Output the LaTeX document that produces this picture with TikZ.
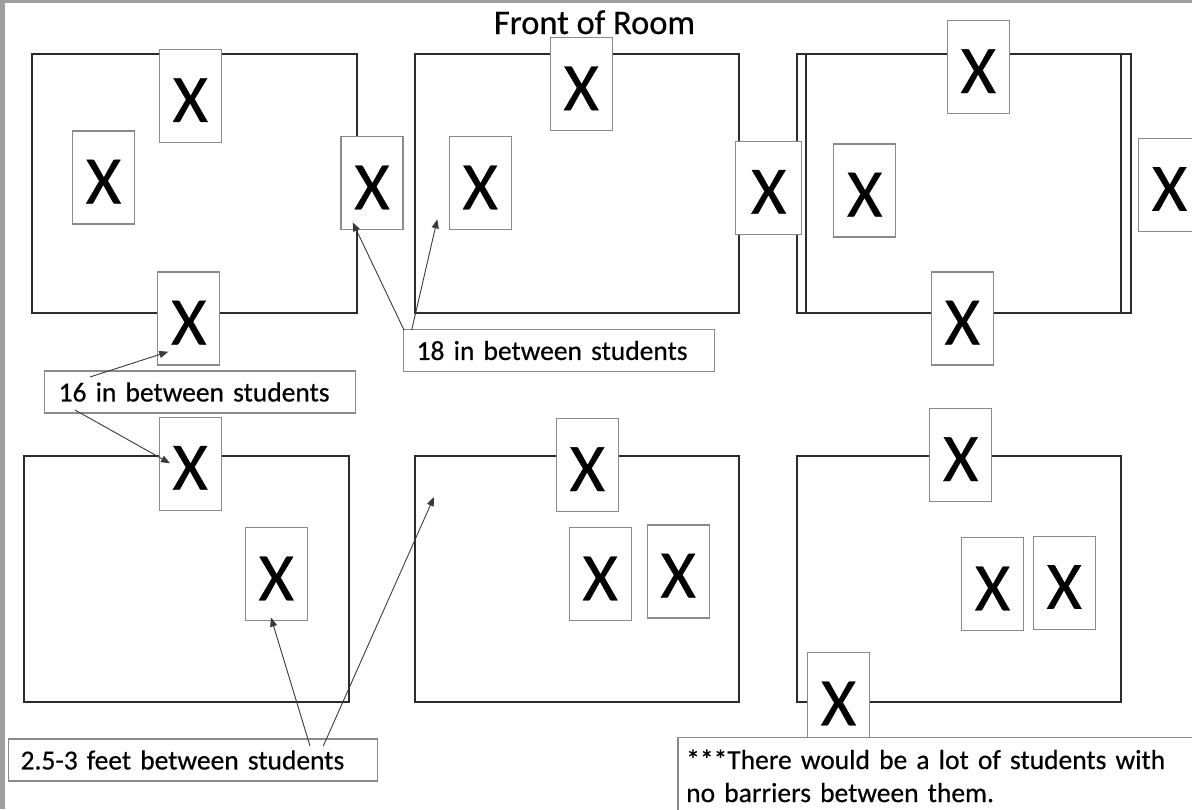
\documentclass[tikz,border=0pt]{standalone}
\usepackage{fontspec}
\setmainfont{Carlito}[FakeBold=0.5]
\usetikzlibrary{arrows.meta}
\definecolor{framegray}{HTML}{9E9E9E}
\definecolor{tableline}{HTML}{2B2B2B}
\definecolor{boxline}{HTML}{8A8A8A}
\definecolor{arrowline}{HTML}{3A3A3A}
\begin{document}
\begin{tikzpicture}[x=1pt,y=-1pt,
  seat/.style={draw=boxline, line width=1.2pt, fill=white, minimum width=62pt, minimum height=93pt, inner sep=0pt, text height=52pt, text depth=0pt, font=\fontsize{68}{68}\selectfont},
  desk/.style={draw=tableline, line width=2pt},
  note/.style={draw=boxline, line width=1.2pt, fill=white, font=\fontsize{27.5}{33}\selectfont, align=left, inner ysep=0pt, minimum height=42pt},
  pointer/.style={draw=arrowline, line width=0.9pt, -{Triangle[length=9pt,width=7pt]}}]
\useasboundingbox (0,0) rectangle (1192,809);
\clip (0,0) rectangle (1192,809);
\fill[white] (0,0) rectangle (1192,809);
\fill[framegray] (0,0) rectangle (4.5,809);
\fill[framegray] (0,0) rectangle (1192,3);

% title
\node[font=\fontsize{34.5}{40}\selectfont, anchor=base, inner sep=0pt] (title) at (594.5,34) {Front of Room};

% tables
\draw[desk] (32.3,54.3) rectangle (357.3,313.3);
\draw[desk] (414.7,54.3) rectangle (739,313.3);
\draw[desk] (796.7,54.3) rectangle (1130.7,313.3);
\draw[desk] (806,54.3) rectangle (1120.7,313.3);
\draw[desk] (24.3,455.7) rectangle (349,701.7);
\draw[desk] (414.7,455.7) rectangle (739,701.7);
\draw[desk] (796.7,455.7) rectangle (1120.7,701.7);

% students
\node[seat] (s1) at (190.3,95.9) {X};
\node[seat] (s2) at (103.5,177.5) {X};
\node[seat] (s3) at (372,183.3) {X};
\node[seat] (s4) at (188.8,318.5) {X};
\node[seat] (s5) at (581.2,84.2) {X};
\node[seat] (s6) at (480.2,183.3) {X};
\node[seat, minimum width=66pt] (s7) at (768.7,187.7) {X};
\node[seat] (s8) at (978.3,67) {X};
\node[seat] (s9) at (864.7,190.5) {X};
\node[seat] (s10) at (1169.5,184.8) {X};
\node[seat] (s11) at (962.3,318.5) {X};
\node[seat] (s12) at (190.2,463.7) {X};
\node[seat] (s13) at (276.3,574.3) {X};
\node[seat] (s14) at (587.3,465) {X};
\node[seat] (s15) at (600.2,574.3) {X};
\node[seat] (s16) at (678.2,571.5) {X};
\node[seat] (s17) at (960.7,455) {X};
\node[seat] (s18) at (992.5,584.3) {X};
\node[seat] (s19) at (1064.2,582.8) {X};
\node[seat] (s20) at (838.5,699.3) {X};

% labels
\node[note, text width=283pt, inner xsep=14pt, anchor=west] (l16) at (44,392) {16 in between students};
\node[note, text width=285pt, inner xsep=13pt, anchor=west] (l18) at (403,350.5) {18 in between students};
\node[note, text width=345pt, inner xsep=12pt, anchor=west] (l25) at (8,760) {2.5-3 feet between students};
\draw[draw=boxline, line width=1.2pt, fill=white] (678,737.3) rectangle (1260,860);
\node[font=\fontsize{27.5}{33}\selectfont, align=left, text width=560pt, inner xsep=8pt, inner ysep=12pt, anchor=north west] (lnote) at (678,737.3) {***There would be a lot of students with\\no barriers between them.};

% arrow ends
\coordinate (a16s1) at (90,377);
\coordinate (a16t1) at (168.3,351.7);
\coordinate (a16s2) at (75,410);
\coordinate (a16t2) at (170,463.3);
\coordinate (a18s1) at (404,330);
\coordinate (a18t1) at (352.7,222.3);
\coordinate (a18s2) at (411.7,330);
\coordinate (a18t2) at (437.3,219.3);
\coordinate (a25s1) at (310,746);
\coordinate (a25t1) at (271,617.5);
\coordinate (a25s2) at (323.3,746);
\coordinate (a25t2) at (434,497);

\draw[pointer] (a16s1) -- (a16t1);
\draw[pointer] (a16s2) -- (a16t2);
\draw[pointer] (a18s1) -- (a18t1);
\draw[pointer] (a18s2) -- (a18t2);
\draw[pointer] (a25s1) -- (a25t1);
\draw[pointer] (a25s2) -- (a25t2);
\end{tikzpicture}
\end{document}
